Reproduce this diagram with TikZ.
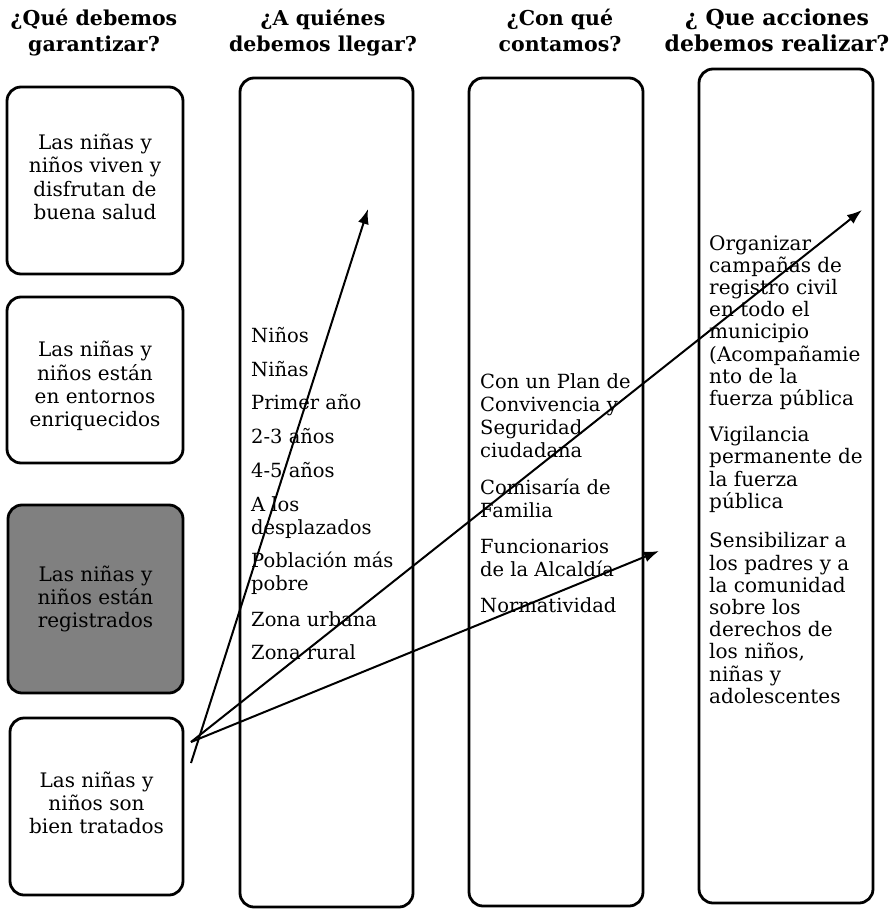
\documentclass[tikz,border=0pt]{standalone}
\usepackage{fontspec}
\setmainfont{DejaVu Serif}
\usetikzlibrary{arrows.meta}
\begin{document}
\begin{tikzpicture}[x=1pt,y=-1pt,
  box/.style={draw,line width=2.8pt,rounded corners=14pt,inner sep=0pt},
  boxtext/.style={font=\fontsize{20}{23.3}\selectfont,align=center,inner sep=0pt},
  head/.style={font=\bfseries\fontsize{20.5}{25.5}\selectfont,align=center,anchor=north,inner sep=0pt},
  list/.style={align=left,anchor=north west,inner sep=0pt},
  arr/.style={line width=2pt,-{Latex[length=15pt,width=11pt]}}]
\useasboundingbox (0,0) rectangle (892,909);

% headers
\node[head] (h1) at (94,9) {¿Qué debemos\\garantizar?};
\node[head] (h2) at (323,9) {¿A quiénes\\debemos llegar?};
\node[head] (h3) at (560,9) {¿Con qué\\contamos?};
\node[head,font=\bfseries\fontsize{22}{26.5}\selectfont] (h4) at (777,8.5) {¿ Que acciones\\debemos realizar?};

% column 1 boxes
\node[box,minimum width=176pt,minimum height=187pt] (b1) at (95,180.5) {};
\node[box,minimum width=176pt,minimum height=166pt] (b2) at (95,380) {};
\node[box,fill=black!50,minimum width=175pt,minimum height=188pt] (b3) at (95.5,599) {};
\node[box,minimum width=173pt,minimum height=177pt] (b4) at (96.5,806.5) {};
\node[boxtext] (t1) at (95,177) {Las niñas y\\niños viven y\\disfrutan de\\buena salud};
\node[boxtext] (t2) at (95,386) {Las niñas y\\niños están\\en entornos\\enriquecidos};
\node[boxtext] (t3) at (95.5,599) {Las niñas y\\niños están\\registrados};
\node[boxtext] (t4) at (96.5,803) {Las niñas y\\niños son\\bien tratados};

% tall columns
\node[box,minimum width=173pt,minimum height=829pt] (c2) at (326.5,492.5) {};
\node[box,minimum width=174pt,minimum height=828pt] (c3) at (556,492) {};
\node[box,minimum width=174pt,minimum height=834pt] (c4) at (786,486) {};

\node[list,font=\fontsize{19.5}{22.8}\selectfont] (l2) at (251,327) {Niños\\[11pt]Niñas\\[11pt]Primer año\\[11pt]2-3 años\\[11pt]4-5 años\\[11pt]A los\\desplazados\\[11pt]Población más\\pobre\\[12.5pt]Zona urbana\\[11pt]Zona rural};
\node[list,font=\fontsize{19.5}{23.3}\selectfont] (l3) at (480,373) {Con un Plan de\\Convivencia y\\Seguridad\\ciudadana\\[13pt]Comisaría de\\Familia\\[12.3pt]Funcionarios\\de la Alcaldía\\[12.3pt]Normatividad};
\node[list,font=\fontsize{20}{22.2}\selectfont] (l4) at (709,235) {Organizar\\campañas de\\registro civil\\en todo el\\municipio\\(Acompañamie\\nto de la\\fuerza pública\\[14pt]Vigilancia\\permanente de\\la fuerza\\pública\\[17.5pt]Sensibilizar a\\los padres y a\\la comunidad\\sobre los\\derechos de\\los niños,\\niñas y\\adolescentes};

% connectors
\coordinate (s1) at (191,763);
\coordinate (s2) at (191,742);
\coordinate (e1) at (368,209);
\coordinate (e2) at (862,210);
\coordinate (e3) at (659,551);
\draw[arr] (s1) -- (e1);
\draw[arr] (s2) -- (e2);
\draw[arr] (s2) -- (e3);
\end{tikzpicture}
\end{document}
